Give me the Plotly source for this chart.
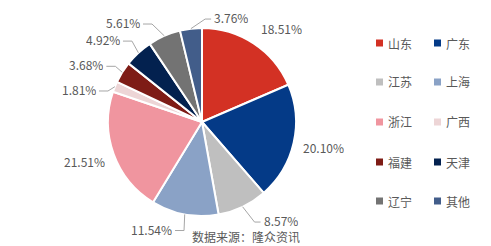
import math
import plotly.graph_objects as go

# ---- data ----
regions = ["山东", "广东", "江苏", "上海", "浙江", "广西", "福建", "天津", "辽宁", "其他"]
shares = [18.51, 20.10, 8.57, 11.54, 21.51, 1.81, 3.68, 4.92, 5.61, 3.76]
colors = ["#D33124", "#043A87", "#BFBFBF", "#8AA2C6", "#F0959F",
          "#EDD5D6", "#7E1C16", "#03214F", "#737373", "#425D8A"]
source_text = "数据来源：隆众资讯"

# ---- layout constants (pixels) ----
W, H = 491, 246
CX, CY, R = 202, 122, 94
# label placement style: (mode, angle offset deg, radius in px, side)
# mode "plain" = text centered at polar point; "lead" = leader line elbow at polar point
label_style = [
    ("plain", 6.7, 123, None),
    ("plain", -1.1, 124, None),
    ("lead", -2.1, 113, "right"),
    ("lead", -1.2, 110, "left"),
    ("plain", 1.6, 124, None),
    ("lead", -3.8, 99, "left"),
    ("lead", 0.8, 103, "left"),
    ("lead", 1.7, 107, "left"),
    ("lead", -3.4, 110, "left"),
    ("lead", 8.5, 103, "right"),
]
GRAY = "#595959"
LINE = "#A6A6A6"
FONT = "Noto Sans CJK SC"


def px(x):
    return x / W


def py(y):
    return 1 - y / H


def polar(theta_deg, r):
    t = math.radians(theta_deg)
    return CX + r * math.sin(t), CY - r * math.cos(t)


fig = go.Figure(go.Pie(
    labels=regions,
    values=shares,
    sort=False,
    direction="clockwise",
    rotation=0,
    marker=dict(colors=colors, line=dict(color="white", width=2)),
    textinfo="none",
    hoverinfo="label+value",
    domain=dict(x=[px(CX - R), px(CX + R)], y=[py(CY + R), py(CY - R)]),
    showlegend=False,
))

annotations = []
shapes = []
total = sum(shares)
cum = 0.0
for name, v, st in zip(regions, shares, label_style):
    mid = (cum + v / 2) / total * 360.0
    cum += v
    txt = f"{v:.2f}%"
    mode, dang, rr, side = st
    if mode == "plain":
        x, y = polar(mid + dang, rr)
        annotations.append(dict(x=px(x), y=py(y), xref="paper", yref="paper", text=txt,
                                showarrow=False, xanchor="center", yanchor="middle",
                                height=14,
                                font=dict(size=12, color=GRAY, family=FONT)))
    else:
        sx, sy = polar(mid, R)
        ex, ey = polar(mid + dang, rr)
        hx = ex + (6 if side == "right" else -9)
        shapes.append(dict(type="path", xref="paper", yref="paper",
                           path=f"M {px(sx)},{py(sy)} L {px(ex)},{py(ey)} L {px(hx)},{py(ey)}",
                           line=dict(color=LINE, width=1)))
        annotations.append(dict(x=px(hx + (1 if side == "right" else -1)), y=py(ey - 2),
                                xref="paper", yref="paper", text=txt,
                                showarrow=False,
                                xanchor="left" if side == "right" else "right",
                                yanchor="middle", height=14,
                                font=dict(size=12, color=GRAY, family=FONT)))

# manual two-column legend
col_x = [376, 434]
row_y = [43, 82, 122, 162, 201]
for i, (name, c) in enumerate(zip(regions, colors)):
    x0 = col_x[i % 2]
    y0 = row_y[i // 2]
    shapes.append(dict(type="rect", xref="paper", yref="paper",
                       x0=px(x0), x1=px(x0 + 7), y0=py(y0 + 3.5), y1=py(y0 - 3.5),
                       fillcolor=c, line=dict(width=0)))
    annotations.append(dict(x=px(x0 + 10), y=py(y0), xref="paper", yref="paper", text=name,
                            showarrow=False, xanchor="left", yanchor="middle",
                            font=dict(size=12, color=GRAY, family=FONT)))

annotations.append(dict(x=px(190), y=py(236), xref="paper", yref="paper", text=source_text,
                        showarrow=False, xanchor="left", yanchor="middle", height=14,
                        font=dict(size=12, color=GRAY, family=FONT)))

fig.update_layout(
    width=W, height=H,
    margin=dict(l=0, r=0, t=0, b=0),
    paper_bgcolor="white", plot_bgcolor="white",
    annotations=annotations, shapes=shapes,
)

fig.write_html("out.html")
